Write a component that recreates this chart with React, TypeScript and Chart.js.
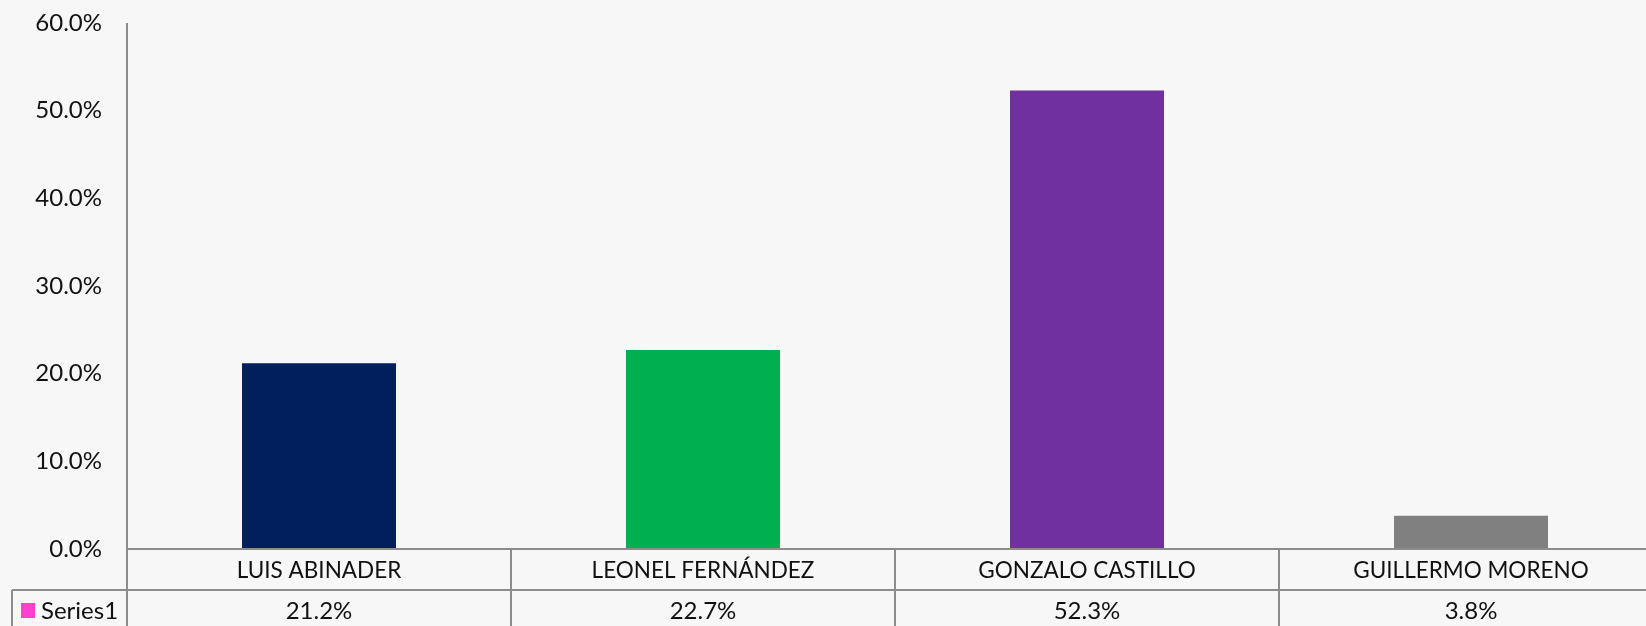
import React, { useEffect, useRef } from "react";
import { Chart, registerables } from "chart.js";

Chart.register(...registerables);

const categories = ["LUIS ABINADER", "LEONEL FERNÁNDEZ", "GONZALO CASTILLO", "GUILLERMO MORENO"];
const values = [21.2, 22.7, 52.3, 3.8];
const barColors = ["#001F5C", "#00B050", "#7030A0", "#808080"];
const seriesName = "Series1";
const seriesKeyColor = "#FF3FD2";
const yMax = 60;
const yStep = 10;

const BG = "#F8F7F8";
const LINE = "#8C8C8C";
const TEXT = "#111111";
const FONT_FAMILY = "Lato, 'Noto Sans', sans-serif";
const FONT_SIZE = 24;
const CAT_FONT_SIZE = 22.5;

const CANVAS_W = 1670;
const CANVAS_H = 626;

const fmt = (v: number) => v.toFixed(1) + "%";

const tablePlugin = {
  id: "dataTable",
  beforeDraw(chart: any) {
    const ctx = chart.ctx;
    ctx.save();
    ctx.fillStyle = BG;
    ctx.fillRect(0, 0, chart.width, chart.height);
    ctx.restore();
  },
  afterDraw(chart: any) {
    const ctx = chart.ctx;
    const area = chart.chartArea;
    const xs = chart.scales.x;
    const n = categories.length;
    const rowH = 41;
    const row1 = area.bottom + rowH;
    const row2 = row1 + rowH;
    const tableLeft = 12;

    const bounds: number[] = [area.left];
    for (let i = 0; i < n - 1; i++) {
      bounds.push((xs.getPixelForValue(i) + xs.getPixelForValue(i + 1)) / 2);
    }
    bounds.push(area.right);

    ctx.save();
    ctx.strokeStyle = LINE;
    ctx.lineWidth = 2;
    ctx.beginPath();
    ctx.moveTo(area.left, area.top);
    ctx.lineTo(area.left, row2);
    ctx.moveTo(area.left, area.bottom);
    ctx.lineTo(area.right, area.bottom);
    ctx.moveTo(tableLeft, row1);
    ctx.lineTo(area.right, row1);
    ctx.moveTo(tableLeft, row2);
    ctx.lineTo(area.right, row2);
    ctx.moveTo(tableLeft, row1);
    ctx.lineTo(tableLeft, row2);
    for (let i = 1; i < bounds.length; i++) {
      ctx.moveTo(bounds[i], area.bottom);
      ctx.lineTo(bounds[i], row2);
    }
    ctx.stroke();

    ctx.fillStyle = TEXT;
    ctx.textAlign = "center";
    ctx.textBaseline = "middle";
    for (let i = 0; i < n; i++) {
      const cx = xs.getPixelForValue(i);
      ctx.font = `${CAT_FONT_SIZE}px ${FONT_FAMILY}`;
      ctx.fillText(categories[i], cx, area.bottom + rowH / 2 + 1);
      ctx.font = `${FONT_SIZE}px ${FONT_FAMILY}`;
      ctx.fillText(fmt(values[i]), cx, row1 + rowH / 2 + 1);
    }

    ctx.fillStyle = seriesKeyColor;
    ctx.fillRect(21, row1 + 13, 14, 15);
    ctx.fillStyle = TEXT;
    ctx.textAlign = "left";
    ctx.font = `${FONT_SIZE}px ${FONT_FAMILY}`;
    ctx.fillText(seriesName, 41, row1 + rowH / 2 + 1);
    ctx.restore();
  },
};

export default function App() {
  const ref = useRef<HTMLCanvasElement | null>(null);

  useEffect(() => {
    if (!ref.current) return;
    const chart = new Chart(ref.current, {
      type: "bar",
      data: {
        labels: categories,
        datasets: [
          {
            label: seriesName,
            data: values,
            backgroundColor: barColors,
            borderWidth: 0,
            categoryPercentage: 1,
            barPercentage: 0.401,
          },
        ],
      },
      options: {
        responsive: false,
        animation: false,
        devicePixelRatio: 1,
        layout: { padding: { top: 23, bottom: CANVAS_H - 549, left: 0, right: CANVAS_W - 1663 } },
        plugins: { legend: { display: false }, tooltip: { enabled: false } },
        scales: {
          x: { display: false },
          y: {
            min: 0,
            max: yMax,
            ticks: {
              stepSize: yStep,
              padding: 25,
              color: TEXT,
              font: { family: FONT_FAMILY, size: FONT_SIZE },
              callback: (v: any) => fmt(Number(v)),
            },
            grid: { display: false, drawTicks: false },
            border: { display: false },
            afterFit: (s: any) => {
              s.width = 127;
              s.paddingTop = 0;
              s.paddingBottom = 0;
            },
          },
        },
      },
      plugins: [tablePlugin],
    });
    return () => chart.destroy();
  }, []);

  return (
    <div
      style={{
        position: "fixed",
        left: 0,
        top: 0,
        width: 1646,
        height: 626,
        overflow: "hidden",
        background: BG,
      }}
    >
      <canvas ref={ref} width={CANVAS_W} height={CANVAS_H} style={{ display: "block", width: CANVAS_W, height: CANVAS_H }} />
    </div>
  );
}
